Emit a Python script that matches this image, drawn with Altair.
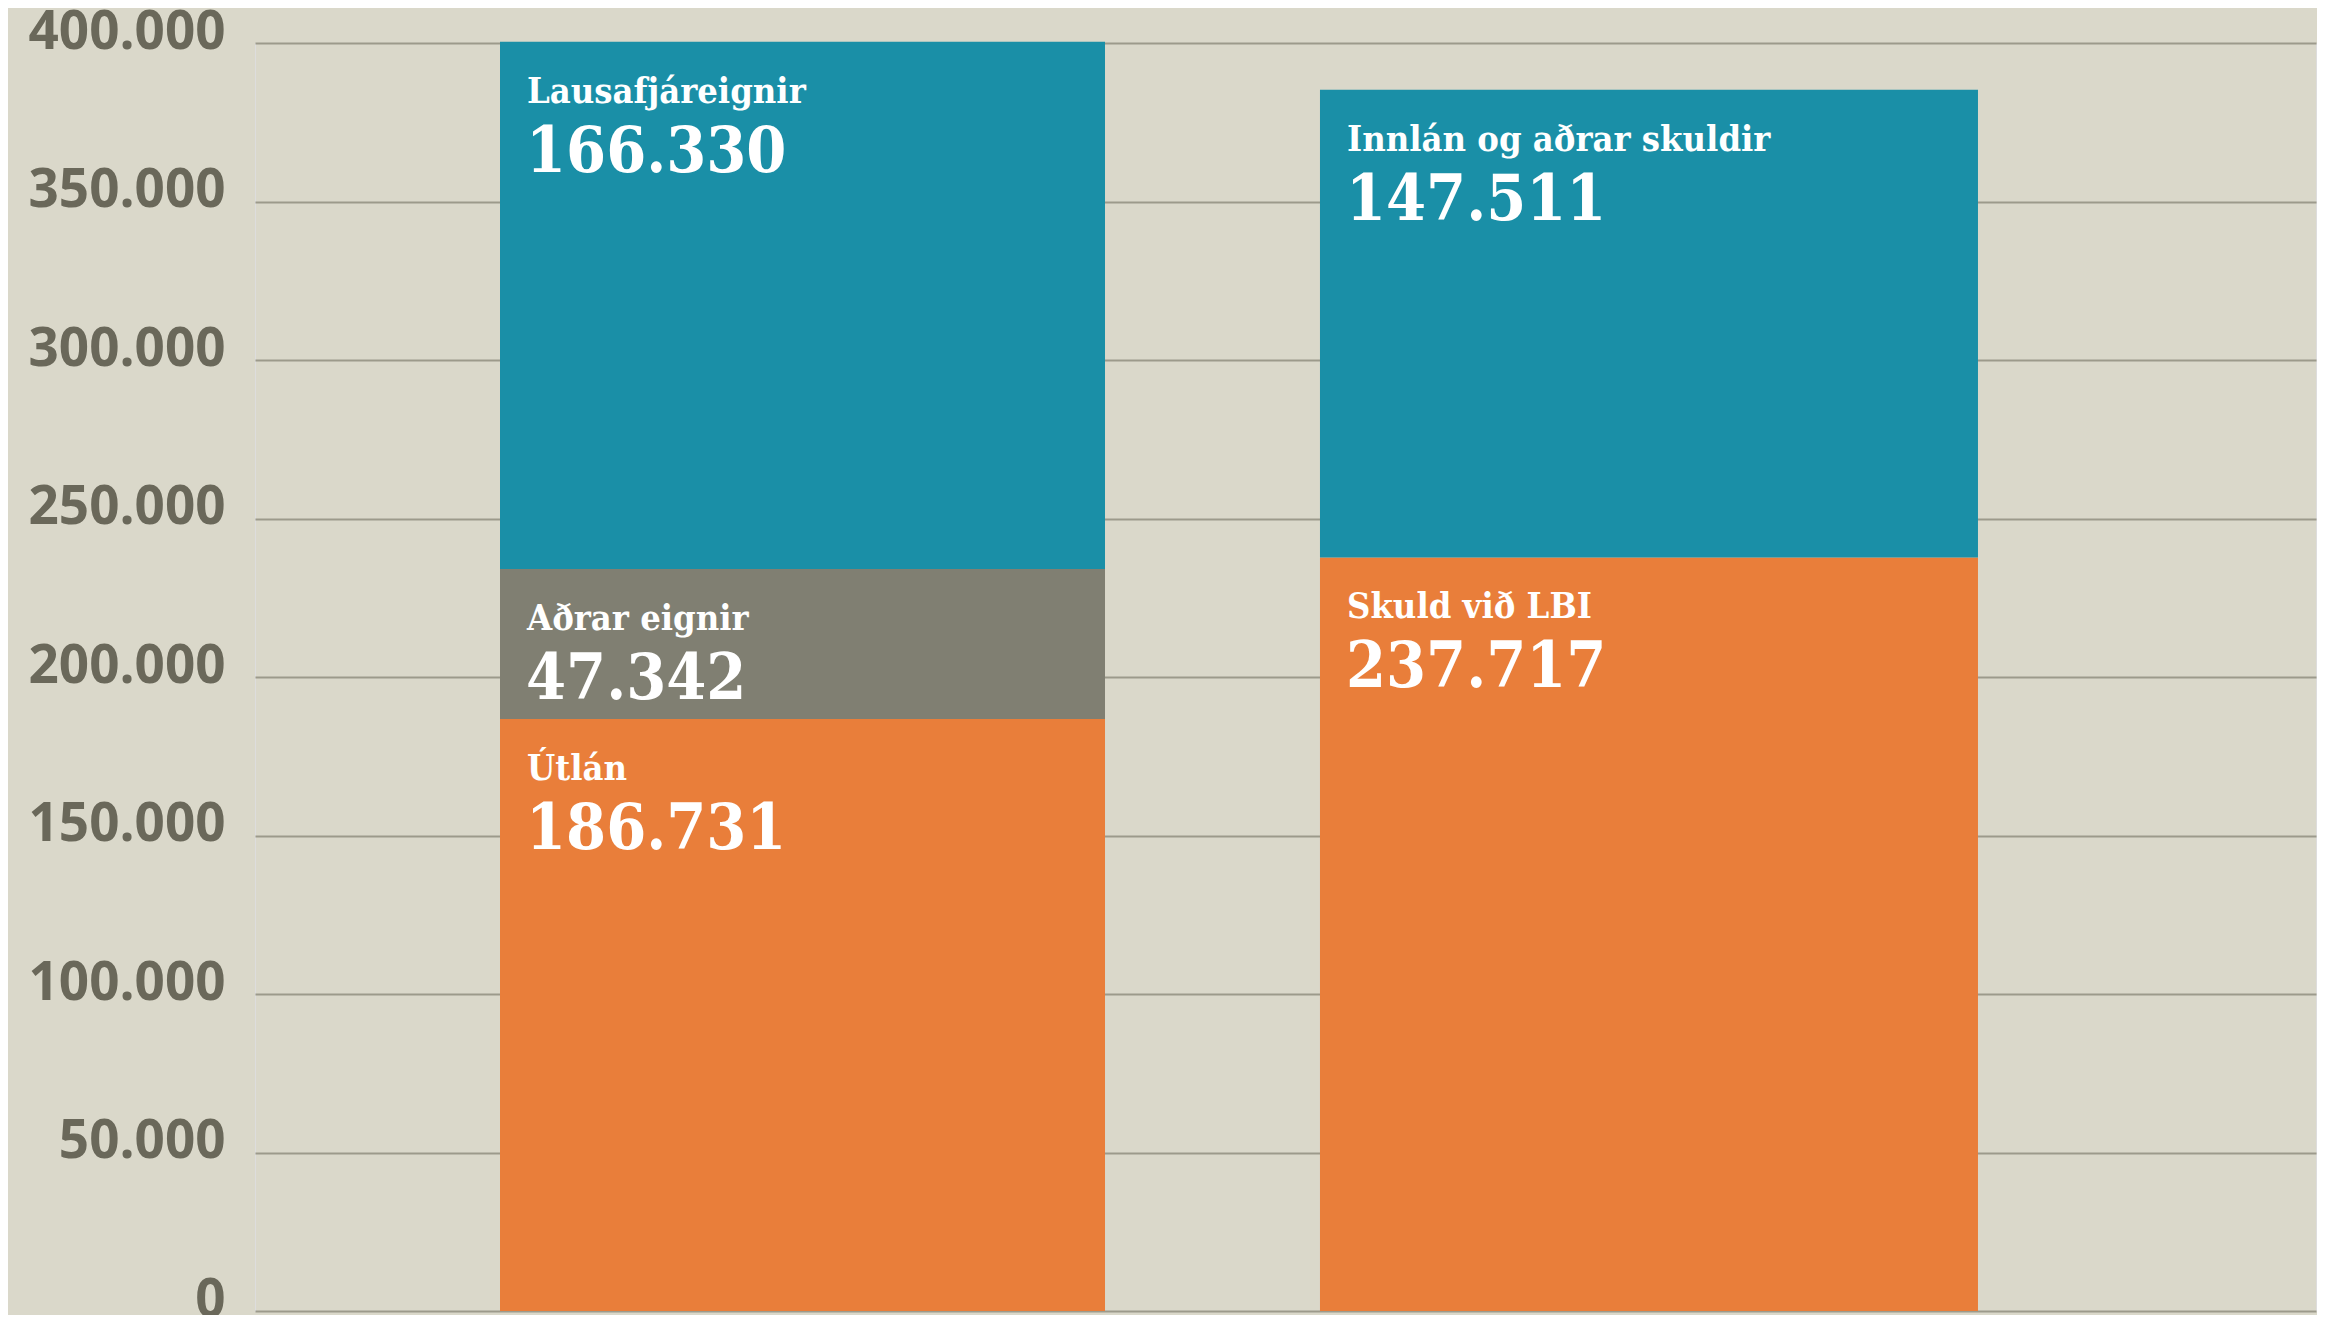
import altair as alt
import pandas as pd

# ---- data ----
sides = ["Eignir", "Eignir", "Eignir", "Skuldir", "Skuldir"]
names = ["Útlán", "Aðrar eignir", "Lausafjáreignir", "Skuld við LBI", "Innlán og aðrar skuldir"]
values = [186731, 47342, 166330, 237717, 147511]
kinds = ["orange", "gray", "teal", "orange", "teal"]
y_ticks = [0, 50000, 100000, 150000, 200000, 250000, 300000, 350000, 400000]

side_order = ["Eignir", "Skuldir"]
bar_widths = {"Eignir": 605, "Skuldir": 658}
kind_colors = {"orange": "#e97e3a", "gray": "#807f72", "teal": "#1a8fa7"}

df = pd.DataFrame({"side": sides, "name": names, "value": values, "kind": kinds})
df["y1"] = df.groupby("side")["value"].cumsum()
df["y0"] = df["y1"] - df["value"]
df["label"] = df["value"].map(lambda v: f"{v:,}".replace(",", "."))

BG = "#dad8ca"
LABEL_FONT = "'DejaVu Serif Condensed', 'DejaVu Serif', serif"

x_enc = alt.X(
    "side:N",
    scale=alt.Scale(type="point", domain=side_order, padding=0.7174, align=0.4508),
    axis=None,
)
y_scale = alt.Scale(domain=[0, 400000], nice=False, zero=True)
y_axis = alt.Axis(
    values=y_ticks,
    format=",.0f",
    ticks=False,
    domain=False,
    grid=True,
    gridColor="#9c9a8b",
    gridWidth=2,
    labelFont="Open Sans",
    labelFontWeight="bold",
    labelFontSize=53,
    labelColor="#6a685a",
    labelPadding=30,
    labelLimit=400,
    labelBaseline="middle",
    labelOffset=-11,
)

def y_enc():
    return alt.Y("y1:Q", scale=y_scale, title=None, axis=y_axis)

layers = []
for s in side_order:
    w = bar_widths[s]
    base = alt.Chart(df).transform_filter(alt.datum.side == s)
    bars = base.mark_bar(width=w).encode(
        x=x_enc,
        y=y_enc(),
        y2="y0:Q",
        color=alt.Color(
            "kind:N",
            scale=alt.Scale(domain=list(kind_colors.keys()), range=list(kind_colors.values())),
            legend=None,
        ),
    )
    names_txt = base.mark_text(
        align="left", baseline="alphabetic", dx=-w / 2 + 27, dy=61,
        font=LABEL_FONT, fontWeight="bold", fontSize=36, color="white",
    ).encode(x=x_enc, y=y_enc(), text="name:N")
    nums_txt = base.mark_text(
        align="left", baseline="alphabetic", dx=-w / 2 + 26, dy=130,
        font=LABEL_FONT, fontWeight="bold", fontSize=64, color="white",
    ).encode(x=x_enc, y=y_enc(), text="label:N")
    layers += [bars, names_txt, nums_txt]

chart = alt.layer(*layers).properties(
    width=2061,
    height=1268,
    background=BG,
    padding={"left": 247, "top": 35, "right": 1, "bottom": 4},
    autosize=alt.AutoSizeParams(type="none"),
).configure_view(stroke=None).configure(
    locale={"number": {"decimal": ",", "thousands": ".", "grouping": [3], "currency": ["", " kr."]}}
)

chart.save("out.html", embed_options={"renderer": "svg", "actions": False})
